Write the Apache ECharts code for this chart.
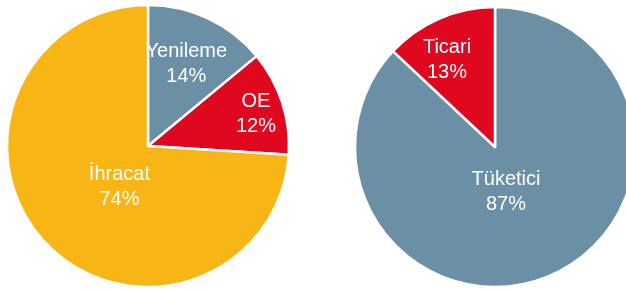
<!DOCTYPE html>
<html>
<head>
<meta charset="utf-8">
<script src="https://cdn.jsdelivr.net/npm/echarts@6/dist/echarts.min.js"></script>
<style>
    html, body { margin: 0; padding: 0; background: #fff; }
    #chart { width: 626px; height: 291px; }
</style>
</head>
<body>
<div id="chart"></div>
<script>
    // sol pasta
    var leftNames = ['Yenileme', 'OE', 'İhracat'];
    var leftValues = [14, 12, 74];
    var leftColors = ['#6b8fa5', '#e0081f', '#f8b616'];
    var leftOffsets = [[7, -16], [38, -9], [25, -9]];

    // sag pasta
    var rightNames = ['Tüketici', 'Ticari'];
    var rightValues = [87, 13];
    var rightColors = ['#6b8fa5', '#e0081f'];
    var rightOffsets = [[-18, -22], [-19, -20]];

    function buildData(names, values, colors, offsets) {
        return names.map(function (n, i) {
            return {
                name: n,
                value: values[i],
                itemStyle: { color: colors[i] },
                label: { offset: offsets[i] }
            };
        });
    }

    function pieSeries(center, radius, data) {
        return {
            type: 'pie',
            center: center,
            radius: radius,
            startAngle: 90,
            clockwise: true,
            animation: false,
            silent: true,
            itemStyle: { borderColor: '#ffffff', borderWidth: 2.5 },
            label: {
                show: true,
                position: 'inside',
                color: '#ffffff',
                fontFamily: 'Liberation Sans, Arial, sans-serif',
                fontSize: 20,
                lineHeight: 25,
                formatter: function (p) { return p.name + '\n' + p.value + '%'; }
            },
            labelLine: { show: false },
            data: data
        };
    }

    var chart = echarts.init(document.getElementById('chart'));
    chart.setOption({
        backgroundColor: '#ffffff',
        series: [
            pieSeries([148, 146], 141, buildData(leftNames, leftValues, leftColors, leftOffsets)),
            pieSeries([495, 147], 140, buildData(rightNames, rightValues, rightColors, rightOffsets))
        ]
    });
</script>
</body>
</html>
